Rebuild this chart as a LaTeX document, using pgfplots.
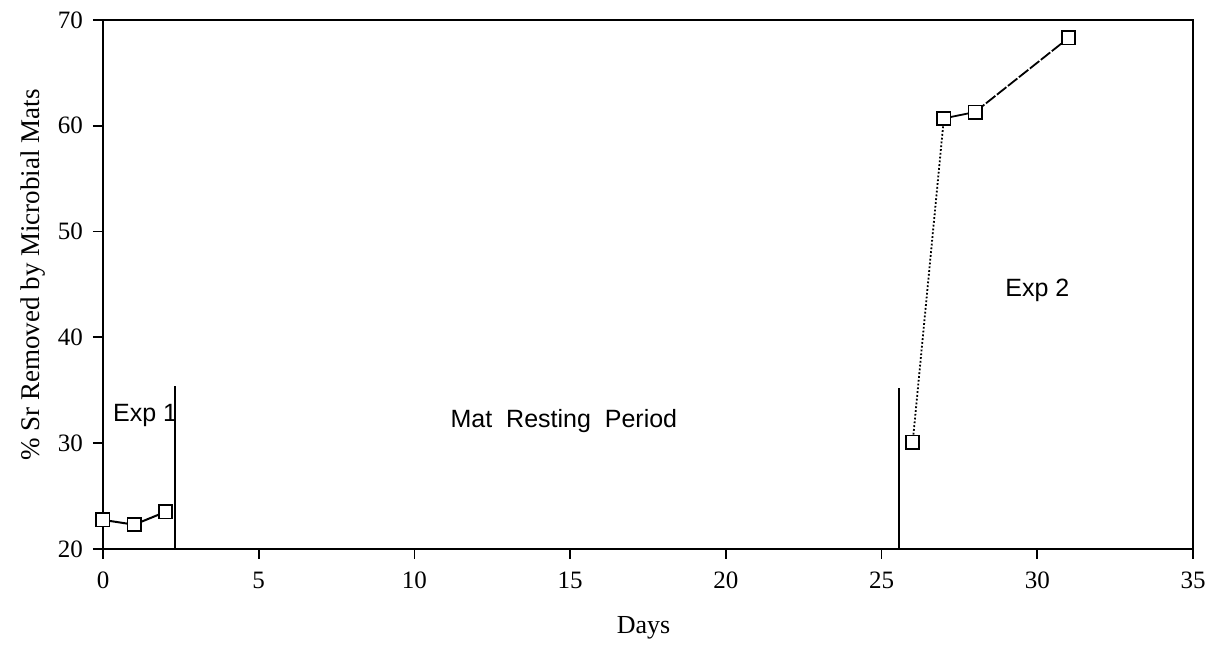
\documentclass[border=0pt]{standalone}
\usepackage{pgfplots}
\pgfplotsset{compat=1.18}
\usepackage{fontspec}
\setmainfont{Liberation Serif}
\newfontfamily\arial{Liberation Sans}
\begin{document}
\begin{tikzpicture}
\begin{axis}[
  scale only axis,
  width=545pt, height=264.5pt,
  xmin=0, xmax=35, ymin=20, ymax=70,
  xtick={0,5,...,35}, ytick={20,30,...,70},
  tick align=outside, tick pos=left,
  major tick length=5pt,
  axis line style={line width=0.9pt},
  every tick/.style={line width=0.9pt, black},
  /pgf/number format/assume math mode=true,
  ticklabel style={font=\fontsize{12.5}{14}\selectfont},
  xticklabel style={yshift=-3pt},
  yticklabel style={xshift=-1.5pt},
  xlabel={Days},
  ylabel={\% Sr Removed by Microbial Mats},
  xlabel style={font=\fontsize{13}{15}\selectfont, at={(axis description cs:0.496,-0.149)}, anchor=center},
  ylabel style={font=\fontsize{13.5}{15}\selectfont, at={(axis description cs:-0.064,0.518)}, anchor=center},
  clip=false,
]
\addplot[black, line width=1pt, mark=square*, mark size=3.3pt, mark options={fill=white, line width=0.9pt, solid}]
  coordinates {(0,22.75) (1,22.3) (2,23.5)};
\addplot[black, line width=0.9pt, densely dotted, mark=square*, mark size=3.3pt, mark options={fill=white, line width=0.9pt, solid}]
  coordinates {(26,30.1) (27,60.7)};
\addplot[black, line width=0.9pt, mark=square*, mark size=3.3pt, mark options={fill=white, line width=0.9pt, solid}]
  coordinates {(27,60.7) (28,61.3)};
\addplot[black, line width=0.9pt, dash pattern=on 6pt off 1pt, mark=square*, mark size=3.3pt, mark options={fill=white, line width=0.9pt, solid}]
  coordinates {(28,61.3) (31.0,68.3)};
\addplot[black, line width=1pt] coordinates {(2.32,20) (2.32,35.4)};
\addplot[black, line width=0.9pt] coordinates {(25.55,20) (25.55,35.2)};
\node[font=\arial\fontsize{12.5}{14}\selectfont, anchor=west] at (axis cs:0.1,32.6) {Exp 1};
\node[font=\arial\fontsize{12.5}{14}\selectfont, anchor=center] at (axis cs:14.8,32.1) {Mat\ \ Resting\ \ Period};
\node[font=\arial\fontsize{12.5}{14}\selectfont, anchor=center] at (axis cs:30.0,44.4) {Exp 2};
\path (rel axis cs:0,0) ++(-51.5pt,-48.5pt) coordinate (bbll);
\path (rel axis cs:1,1) ++(10pt,10pt) coordinate (bbur);
\end{axis}
\path (bbll) rectangle (bbur);
\end{tikzpicture}
\end{document}
